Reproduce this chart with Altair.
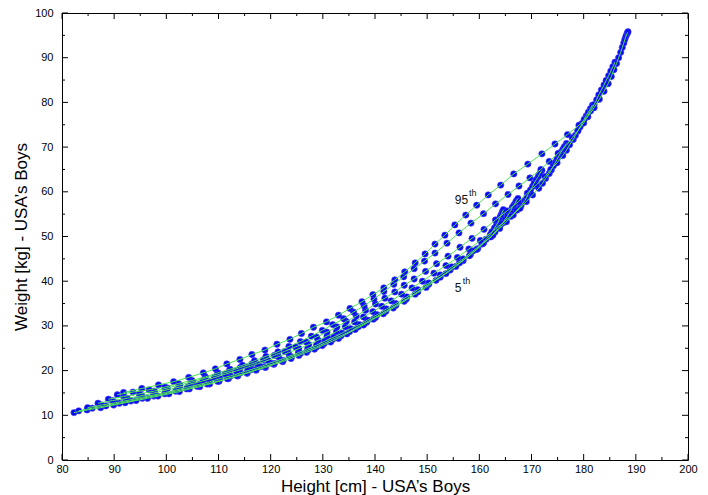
import altair as alt
import pandas as pd

# ---- data: percentile tracks (height cm, weight kg), ages 2..20 every 4 months ----
h_p5 = [82.3, 84.8, 87.4, 89.9, 92.1, 94.2, 96.4, 98.4, 100.5, 102.5, 104.4, 106.4, 108.3, 110.1, 111.9,
        113.7, 115.5, 117.2, 119.0, 120.6, 122.3, 123.9, 125.4, 126.9, 128.4, 129.9, 131.5, 133.0, 134.6,
        136.2, 137.8, 139.7, 141.6, 143.5, 145.6, 147.7, 149.8, 151.7, 153.6, 155.5, 156.9, 158.3, 159.7,
        160.5, 161.3, 162.1, 162.5, 162.9, 163.3, 163.6, 163.8, 164.0, 164.2, 164.4, 164.6]
w_p5 = [10.6, 11.2, 11.7, 12.3, 12.8, 13.3, 13.8, 14.3, 14.8, 15.3, 15.9, 16.4, 17.0, 17.6, 18.2,
        18.8, 19.4, 20.1, 20.7, 21.4, 22.0, 22.7, 23.4, 24.1, 24.8, 25.6, 26.4, 27.2, 28.2,
        29.2, 30.2, 31.5, 32.7, 34.0, 35.5, 37.1, 38.6, 40.2, 41.7, 43.3, 44.6, 46.0, 47.3,
        48.3, 49.4, 50.4, 51.1, 51.9, 52.6, 53.2, 53.8, 54.4, 54.9, 55.5, 56.0]

h_p10 = [83.2, 85.8, 88.4, 91.0, 93.2, 95.4, 97.6, 99.7, 101.8, 103.9, 105.9, 107.8, 109.8, 111.7, 113.5,
         115.4, 117.2, 118.9, 120.7, 122.4, 124.0, 125.7, 127.2, 128.8, 130.3, 131.9, 133.5, 135.1, 136.8,
         138.4, 140.1, 142.1, 144.0, 146.0, 148.2, 150.3, 152.5, 154.4, 156.2, 158.1, 159.5, 160.8, 162.2,
         163.0, 163.8, 164.6, 165.0, 165.4, 165.8, 166.1, 166.3, 166.6, 166.9, 167.1, 167.4]
w_p10 = [11.0, 11.6, 12.1, 12.7, 13.2, 13.8, 14.3, 14.8, 15.4, 15.9, 16.5, 17.0, 17.6, 18.2, 18.9,
         19.5, 20.2, 20.9, 21.6, 22.3, 23.1, 23.8, 24.6, 25.3, 26.1, 27.0, 27.8, 28.7, 29.8,
         30.8, 31.9, 33.3, 34.6, 36.0, 37.6, 39.3, 40.9, 42.5, 44.1, 45.7, 47.1, 48.5, 49.9,
         51.0, 52.0, 53.1, 53.9, 54.6, 55.4, 55.9, 56.5, 57.0, 57.5, 58.0, 58.5]

h_p25 = [84.9, 87.6, 90.2, 92.9, 95.2, 97.5, 99.8, 102.0, 104.1, 106.3, 108.3, 110.3, 112.3, 114.2, 116.2,
         118.1, 119.9, 121.8, 123.6, 125.3, 127.1, 128.8, 130.4, 132.1, 133.7, 135.3, 137.0, 138.6, 140.4,
         142.2, 144.0, 146.1, 148.2, 150.3, 152.5, 154.7, 156.9, 158.8, 160.7, 162.6, 163.9, 165.2, 166.5,
         167.2, 168.0, 168.7, 169.1, 169.4, 169.8, 170.2, 170.5, 170.9, 171.3, 171.6, 172.0]
w_p25 = [11.7, 12.3, 12.8, 13.4, 14.0, 14.5, 15.1, 15.7, 16.3, 16.9, 17.5, 18.2, 18.8, 19.5, 20.2,
         20.9, 21.7, 22.4, 23.2, 24.0, 24.9, 25.7, 26.6, 27.5, 28.4, 29.4, 30.3, 31.3, 32.5,
         33.8, 35.0, 36.5, 38.1, 39.6, 41.4, 43.2, 45.0, 46.8, 48.5, 50.3, 51.8, 53.3, 54.8,
         55.9, 56.9, 58.0, 58.8, 59.6, 60.4, 61.2, 61.9, 62.7, 63.4, 64.1, 64.8]

h_p50 = [86.9, 89.7, 92.5, 95.3, 97.7, 100.1, 102.5, 104.7, 107.0, 109.2, 111.3, 113.4, 115.5, 117.5, 119.5,
         121.5, 123.4, 125.4, 127.3, 129.1, 130.8, 132.6, 134.3, 136.1, 137.8, 139.6, 141.3, 143.1, 145.1,
         147.1, 149.1, 151.3, 153.6, 155.8, 158.0, 160.2, 162.4, 164.2, 166.0, 167.8, 169.0, 170.2, 171.4,
         172.1, 172.7, 173.4, 173.8, 174.2, 174.6, 174.9, 175.3, 175.6, 176.0, 176.3, 176.7]
w_p50 = [12.7, 13.3, 13.8, 14.4, 15.0, 15.7, 16.3, 17.0, 17.7, 18.4, 19.2, 19.9, 20.7, 21.5, 22.3,
         23.1, 24.0, 24.9, 25.8, 26.8, 27.7, 28.7, 29.8, 30.9, 32.0, 33.2, 34.4, 35.6, 37.1,
         38.5, 40.0, 41.8, 43.5, 45.3, 47.2, 49.1, 51.0, 52.8, 54.5, 56.3, 57.8, 59.3, 60.8,
         61.9, 63.0, 64.1, 64.9, 65.8, 66.6, 67.3, 68.1, 68.8, 69.5, 70.1, 70.8]

h_p75 = [88.9, 91.8, 94.8, 97.7, 100.2, 102.6, 105.1, 107.4, 109.7, 112.0, 114.2, 116.4, 118.6, 120.7, 122.7,
         124.8, 126.8, 128.8, 130.8, 132.7, 134.5, 136.4, 138.2, 140.1, 141.9, 143.8, 145.6, 147.5, 149.7,
         151.8, 154.0, 156.3, 158.6, 160.9, 163.1, 165.3, 167.5, 169.2, 170.9, 172.6, 173.7, 174.9, 176.0,
         176.7, 177.3, 178.0, 178.4, 178.9, 179.3, 179.7, 180.1, 180.5, 180.9, 181.3, 181.7]
w_p75 = [13.6, 14.2, 14.8, 15.4, 16.1, 16.8, 17.5, 18.3, 19.0, 19.8, 20.7, 21.5, 22.4, 23.4, 24.3,
         25.3, 26.4, 27.5, 28.6, 29.8, 31.0, 32.2, 33.5, 34.9, 36.2, 37.6, 39.1, 40.5, 42.2,
         43.9, 45.6, 47.6, 49.6, 51.6, 53.7, 55.7, 57.8, 59.7, 61.5, 63.4, 65.0, 66.5, 68.1,
         69.3, 70.5, 71.7, 72.6, 73.6, 74.5, 75.3, 76.2, 77.0, 77.8, 78.6, 79.4]

h_p90 = [90.6, 93.6, 96.7, 99.7, 102.3, 104.9, 107.5, 109.9, 112.2, 114.6, 116.9, 119.1, 121.4, 123.5, 125.7,
         127.8, 129.9, 131.9, 134.0, 135.9, 137.9, 139.8, 141.7, 143.6, 145.5, 147.5, 149.5, 151.5, 153.8,
         156.1, 158.4, 160.8, 163.1, 165.5, 167.6, 169.7, 171.8, 173.4, 175.1, 176.7, 177.8, 178.9, 180.0,
         180.7, 181.3, 182.0, 182.5, 182.9, 183.4, 183.9, 184.3, 184.8, 185.2, 185.6, 186.0]
w_p90 = [14.6, 15.2, 15.7, 16.3, 17.1, 17.8, 18.6, 19.5, 20.3, 21.2, 22.2, 23.2, 24.2, 25.4, 26.5,
         27.7, 29.0, 30.3, 31.6, 33.1, 34.5, 36.0, 37.7, 39.3, 41.0, 42.8, 44.5, 46.3, 48.5,
         50.8, 53.0, 55.1, 57.3, 59.4, 61.3, 63.1, 65.0, 66.8, 68.6, 70.4, 72.1, 73.7, 75.4,
         76.8, 78.1, 79.5, 80.6, 81.7, 82.8, 83.9, 84.9, 86.0, 87.0, 88.0, 89.0]

h_p95 = [91.8, 95.3, 98.5, 101.4, 104.3, 107.1, 109.4, 111.6, 114.1, 116.4, 118.9, 121.2, 123.7, 125.9, 128.2,
         130.7, 133.0, 135.2, 137.5, 139.6, 141.7, 143.8, 145.7, 147.7, 149.6, 151.5, 153.4, 155.3, 157.4,
         159.5, 161.7, 164.1, 166.6, 169.3, 172.0, 174.5, 176.9, 179.1, 180.8, 182.0, 183.0, 183.9, 184.7,
         185.3, 185.8, 186.3, 186.7, 187.1, 187.4, 187.7, 187.9, 188.1, 188.3, 188.4, 188.5]
w_p95 = [15.1, 16.0, 16.8, 17.5, 18.5, 19.5, 20.4, 21.5, 22.5, 23.6, 24.6, 25.9, 27.0, 28.3, 29.7,
         30.9, 32.4, 33.9, 35.4, 37.0, 38.5, 40.3, 42.1, 44.1, 46.1, 48.3, 50.3, 52.6, 54.8,
         57.0, 59.3, 61.5, 64.0, 66.2, 68.5, 70.7, 72.8, 74.9, 76.8, 78.8, 80.7, 82.5, 84.2,
         85.8, 87.3, 88.7, 90.0, 91.2, 92.3, 93.3, 94.1, 94.8, 95.3, 95.6, 95.8]

track_names = ["5th", "10th", "25th", "50th", "75th", "90th", "95th"]
track_h = [h_p5, h_p10, h_p25, h_p50, h_p75, h_p90, h_p95]
track_w = [w_p5, w_p10, w_p25, w_p50, w_p75, w_p90, w_p95]

# percentile annotations: number part and superscript part
label_num = ["95", "5"]
label_sup = ["th", "th"]

x_major = [80, 90, 100, 110, 120, 130, 140, 150, 160, 170, 180, 190, 200]
x_minor = [85, 95, 105, 115, 125, 135, 145, 155, 165, 175, 185, 195]
y_major = [0, 10, 20, 30, 40, 50, 60, 70, 80, 90, 100]
y_minor = [5, 15, 25, 35, 45, 55, 65, 75, 85, 95]

rows = []
for name, hs, ws in zip(track_names, track_h, track_w):
    for i, (h, w) in enumerate(zip(hs, ws)):
        rows.append({"pct": name, "i": i, "h": h, "w": w})
df = pd.DataFrame(rows)

# ---- styling ----
W, H = 626, 447
FONT = "Liberation Sans"
xs = alt.Scale(domain=[80, 200], nice=False, zero=False)
ys = alt.Scale(domain=[0, 100], nice=False, zero=False)

xaxis = alt.Axis(values=x_major, title="Height [cm] - USA’s Boys", ticks=False, tickSize=0,
                 domain=False, grid=False, labelFont=FONT, labelFontSize=11, labelColor="#000",
                 labelPadding=3, titleFont=FONT, titleFontSize=17, titleFontWeight="normal",
                 titleColor="#000", titleBaseline="alphabetic", titleY=31, labelFlush=False)
yaxis = alt.Axis(values=y_major, title="Weight [kg] - USA’s Boys", ticks=False, tickSize=0,
                 domain=False, grid=False, labelFont=FONT, labelFontSize=11, labelColor="#000",
                 labelPadding=9, titleFont=FONT, titleFontSize=17, titleFontWeight="normal",
                 titleColor="#000", titleAngle=270, titleBaseline="alphabetic", titleX=-36,
                 titleY=H / 2, titleAlign="center", labelFlush=False)


def X(field):
    return alt.X(field, type="quantitative", scale=xs, axis=xaxis)


def Y(field):
    return alt.Y(field, type="quantitative", scale=ys, axis=yaxis)


points = alt.Chart(df).mark_circle(size=40, color="#0a0aee", opacity=1,
                                   stroke="#4040ff", strokeWidth=0.6).encode(
    x=X("h"), y=Y("w"))

lines = alt.Chart(df).mark_line(color="#4ce84c", strokeWidth=1).encode(
    x=X("h"), y=Y("w"), detail="pct:N", order="i:Q")

xmaj = pd.DataFrame({"v": x_major})
xmin = pd.DataFrame({"v": x_minor})
ymaj = pd.DataFrame({"v": y_major})
ymin = pd.DataFrame({"v": y_minor})

tick_style = dict(color="#000", strokeWidth=1)
ticks = [
    alt.Chart(xmaj).mark_rule(**tick_style).encode(x=X("v"), y=alt.value(H), y2=alt.value(H - 6)),
    alt.Chart(xmin).mark_rule(**tick_style).encode(x=X("v"), y=alt.value(H), y2=alt.value(H - 3)),
    alt.Chart(xmaj).mark_rule(**tick_style).encode(x=X("v"), y=alt.value(0), y2=alt.value(6)),
    alt.Chart(xmin).mark_rule(**tick_style).encode(x=X("v"), y=alt.value(0), y2=alt.value(3)),
    alt.Chart(ymaj).mark_rule(**tick_style).encode(y=Y("v"), x=alt.value(0), x2=alt.value(6)),
    alt.Chart(ymin).mark_rule(**tick_style).encode(y=Y("v"), x=alt.value(0), x2=alt.value(3)),
    alt.Chart(ymaj).mark_rule(**tick_style).encode(y=Y("v"), x=alt.value(W), x2=alt.value(W - 6)),
    alt.Chart(ymin).mark_rule(**tick_style).encode(y=Y("v"), x=alt.value(W), x2=alt.value(W - 3)),
]

num_df = pd.DataFrame({"t": label_num, "h": [155.3, 155.3], "w": [57.2, 37.6]})
sup_df = pd.DataFrame({"t": label_sup, "h": [158.0, 156.8], "w": [59.0, 39.4]})

lab_main = alt.Chart(num_df).mark_text(font=FONT, fontSize=12, align="left", baseline="alphabetic",
                                       color="#111").encode(x=X("h"), y=Y("w"), text="t:N")
lab_sup = alt.Chart(sup_df).mark_text(font=FONT, fontSize=9, align="left", baseline="alphabetic",
                                      color="#111").encode(x=X("h"), y=Y("w"), text="t:N")

chart = alt.layer(points, lines, *ticks, lab_main, lab_sup).properties(
    width=W, height=H,
    autosize=alt.AutoSizeParams(type="none"),
    padding={"left": 54, "top": 5, "right": 12, "bottom": 35},
    background="white",
).configure_view(stroke="#000", strokeWidth=1)

chart.save("out.html", embed_options={"renderer": "svg", "actions": False})
